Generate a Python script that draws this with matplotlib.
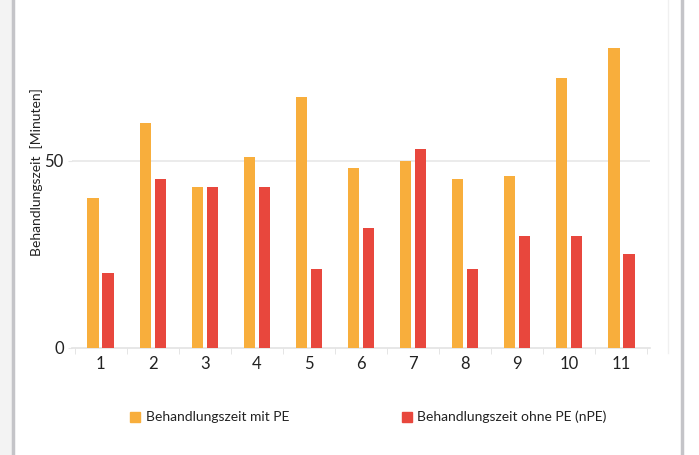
import matplotlib
matplotlib.use("Agg")
import matplotlib.pyplot as plt
import numpy as np
from matplotlib.lines import Line2D
from matplotlib.patches import Rectangle

categories = ["1", "2", "3", "4", "5", "6", "7", "8", "9", "10", "11"]
mit_pe = [40, 60, 43, 51, 67, 48, 50, 45, 46, 72, 80]
ohne_pe = [20, 45, 43, 43, 21, 32, 53, 21, 30, 30, 25]
series_labels = ["Behandlungszeit mit PE", "Behandlungszeit ohne PE (nPE)"]
y_label = "Behandlungszeit  [Minuten]"
y_ticks = [0, 50]

plt.rcParams['font.family'] = ['Lato', 'DejaVu Sans']

W, H = 699, 455
fig = plt.figure(figsize=(W / 100, H / 100), dpi=100)
fig.patch.set_facecolor("white")

# axes placement (pixels)
x0, x1 = 72, 650
yb = 348
ymax = 90
ppu = 3.75
yt = yb - ymax * ppu
ax = fig.add_axes([x0 / W, 1 - yb / H, (x1 - x0) / W, (yb - yt) / H])
ax.set_facecolor("none")

orange = "#F8AE3C"
red = "#E8473D"
x = np.arange(1, len(categories) + 1)
bw = 0.217
off = 0.144
ax.bar(x - off, mit_pe, width=bw, color=orange, zorder=3)
ax.bar(x + off, ohne_pe, width=bw, color=red, zorder=3)

ax.set_xlim(0.45, 11.55)
ax.set_ylim(0, ymax)
ax.set_yticks(y_ticks)
ax.set_yticklabels([str(v) for v in y_ticks], fontsize=12, color="#222222")
ax.set_xticks(x)
ax.set_xticklabels(categories, fontsize=12, color="#222222")
ax.tick_params(axis="x", length=0, pad=6)
ax.tick_params(axis="y", length=3, color="#e6e6e6", pad=3)
# minor ticks at category boundaries
ax.set_xticks(np.arange(0.5, 12, 1), minor=True)
ax.tick_params(axis="x", which="minor", length=4, color="#e0e0e0", direction="out")

for s in ["top", "right", "left"]:
    ax.spines[s].set_visible(False)
ax.spines["bottom"].set_color("#e3e3e3")
ax.spines["bottom"].set_linewidth(1.2)
ax.axhline(50, color="#e8e8e8", lw=1.2, zorder=1)

ax.set_ylabel(y_label, fontsize=10, color="#222222")
ax.yaxis.set_label_coords((43.5 - x0) / (x1 - x0), (yb - 172.5) / (yb - yt))

# decorative frame lines
fig.add_artist(Line2D([12.5 / W, 12.5 / W], [0, 1], color="#c4c4c8", lw=2.5))
fig.add_artist(Line2D([682 / W, 682 / W], [0, 1], color="#c4c4c8", lw=2.5))
fig.add_artist(Line2D([668 / W, 668 / W], [1 - 353 / H, 1], color="#f0f0f0", lw=1))
fig.add_artist(Rectangle((0, 0), 11 / W, 1, color="#f3f3f3", transform=fig.transFigure, zorder=0))

# legend
fig.add_artist(Rectangle((130 / W, 1 - 422 / H), 10 / W, 10 / H, color=orange, transform=fig.transFigure))
fig.text(146 / W, 1 - 417 / H, series_labels[0], fontsize=10, va="center", ha="left", color="#222222")
fig.add_artist(Rectangle((402 / W, 1 - 422 / H), 10 / W, 10 / H, color=red, transform=fig.transFigure))
fig.text(417 / W, 1 - 417 / H, series_labels[1], fontsize=10, va="center", ha="left", color="#222222")

fig.savefig("out.png", dpi=100, facecolor="white")
